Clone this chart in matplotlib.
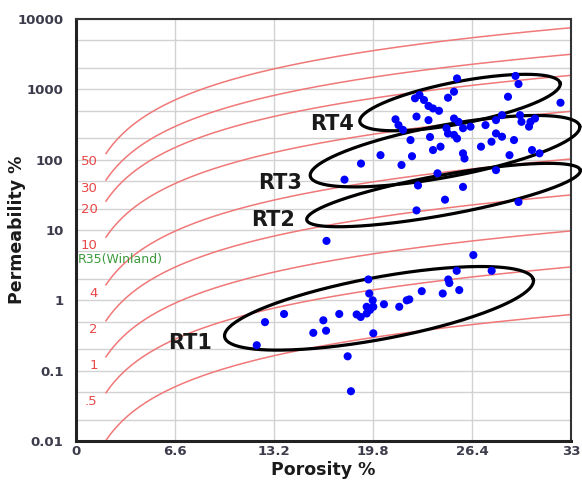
import numpy as np
import matplotlib
matplotlib.use("Agg")
import matplotlib.pyplot as plt
from matplotlib.ticker import LogLocator, NullFormatter

# core plugs above the RT1 band: porosity (%) and permeability (mD)
PHI_UPPER = [25.4, 29.3, 29.5, 32.3, 28.8, 25.2, 24.8, 22.6, 22.9, 23.2,
             23.5, 23.8, 24.2, 22.7, 23.5, 21.3, 21.5, 21.8, 25.2, 25.5,
             24.7, 24.8, 25.2, 25.4, 25.8, 26.3, 27.3, 28.0, 28.4, 29.6,
             29.7, 30.3, 30.6, 30.2, 22.3, 23.6, 23.8, 24.3, 25.8, 25.9,
             27.0, 27.7, 28.0, 28.4, 29.2, 30.4, 30.9, 28.9, 20.3, 22.4,
             21.7, 19.0, 17.9, 24.1, 28.0, 22.8, 25.8, 24.6, 22.7, 29.5,
             16.7]
K_UPPER = [1430, 1550, 1190, 645, 785, 925, 760, 745, 830, 705,
           580, 535, 495, 410, 365, 375, 310, 265, 385, 345,
           280, 235, 225, 200, 280, 295, 310, 365, 430, 430,
           345, 345, 385, 295, 190, 210, 137, 153, 123, 104,
           153, 180, 236, 212, 190, 137, 123, 116, 116, 112,
           84, 88, 52, 64, 71, 43, 41, 27, 19, 25,
           7.0]

# core plugs in the RT1 band
PHI_RT1 = [12.6, 12.05, 13.87, 16.49, 15.82, 16.67, 17.55, 18.11, 18.33,
           19.49, 19.55, 19.78, 19.38, 19.82, 19.6, 19.38, 18.98, 18.71,
           19.82, 20.53, 21.55, 22.05, 22.22, 23.05, 24.45, 24.82, 24.89,
           25.38, 25.55, 26.49, 27.71]
K_RT1 = [0.49, 0.23, 0.64, 0.52, 0.345, 0.37, 0.64, 0.16, 0.051,
         1.98, 1.25, 1.0, 0.81, 0.81, 0.73, 0.65, 0.58, 0.63,
         0.34, 0.88, 0.81, 1.0, 1.03, 1.35, 1.25, 1.98, 1.76,
         2.63, 1.40, 4.4, 2.63]

# Winland R35 pore-throat radius lines (microns)
R35_VALUES = [50, 30, 20, 10, 4, 2, 1, 0.5, 0.2]
R35_LABELS = ["50", "30", "20", "10", "4", "2", "1", ".5", ""]

# rock type envelopes: centre (phi, K), semi-axes in pixels, tilt in degrees
RT_NAMES = ["RT1", "RT2", "RT3", "RT4"]
RT_PHI = [20.2, 24.5, 24.6, 25.6]
RT_K = [0.77, 31.4, 132, 649]
RT_A = [157, 139, 137, 102]
RT_B = [31, 20, 26, 21]
RT_ANGLE = [10.5, 10.3, 10.5, 10.9]
RT_LABEL_PHI = [9.1, 14.6, 15.1, 18.5]
RT_LABEL_K = [0.25, 13.8, 47, 320]

X_TICKS = [0, 6.6, 13.2, 19.8, 26.4, 33]
X_TICK_LABELS = ["0", "6.6", "13.2", "19.8", "26.4", "33"]
Y_TICKS = [0.01, 0.1, 1, 10, 100, 1000, 10000]
Y_TICK_LABELS = ["0.01", "0.1", "1", "10", "100", "1000", "10000"]


def winland_k(phi, r35):
    # log R35 = 0.732 + 0.588 log K - 0.864 log phi
    return 10 ** ((np.log10(r35) - 0.732 + 0.864 * np.log10(phi)) / 0.588)


def draw_envelope(ax, phi, k, a, b, angle, w_px, h_px):
    t = np.linspace(0, 2 * np.pi, 300)
    th = np.radians(angle)
    dx = a * np.cos(t) * np.cos(th) - b * np.sin(t) * np.sin(th)
    dy = a * np.cos(t) * np.sin(th) + b * np.sin(t) * np.cos(th)
    fx = phi / 33.0 + dx / w_px
    fy = (np.log10(k) + 2) / 6.0 + dy / h_px
    ax.plot(fx, fy, color="black", lw=2.3, transform=ax.transAxes,
            clip_on=False, zorder=3)


fig = plt.figure(figsize=(5.82, 4.82), dpi=100)
ax = fig.add_axes([76 / 582, 41 / 482, 495 / 582, 422 / 482])
ax.set_xlim(0, 33)
ax.set_ylim(0.01, 10000)
ax.set_yscale("log")

# iso-R35 lines
phi_line = np.linspace(2, 33, 200)
for r35, lab in zip(R35_VALUES, R35_LABELS):
    ax.plot(phi_line, winland_k(phi_line, r35), color="#f07878", lw=1.1,
            zorder=2)
    if lab:
        ax.text(1.45, winland_k(2, r35) / 10 ** 0.12, lab, color="#e84848",
                fontsize=9.5, ha="right", va="center", zorder=4)
ax.text(0.13, 3.85, "R35(Winland)", color="#3c9a3c", fontsize=9,
        ha="left", va="center", zorder=4)

w_px = 495
h_px = 422
for name, p, k, a, b, ang, lp, lk in zip(RT_NAMES, RT_PHI, RT_K, RT_A, RT_B,
                                         RT_ANGLE, RT_LABEL_PHI, RT_LABEL_K):
    draw_envelope(ax, p, k, a, b, ang, w_px, h_px)
    ax.text(lp, lk, name, fontsize=15, fontweight="bold", color="#1a1a1a",
            ha="right", va="center", zorder=4)

ax.scatter(PHI_UPPER, K_UPPER, s=34, color="#0000ff", edgecolors="none",
           zorder=5)
ax.scatter(PHI_RT1, K_RT1, s=34, color="#0000ff", edgecolors="none",
           zorder=5)

ax.set_xticks(X_TICKS)
ax.set_xticklabels(X_TICK_LABELS)
ax.set_yticks(Y_TICKS)
ax.set_yticklabels(Y_TICK_LABELS)
ax.yaxis.set_minor_locator(LogLocator(base=10, subs=(2, 5)))
ax.yaxis.set_minor_formatter(NullFormatter())
ax.tick_params(which="both", length=0)
ax.tick_params(axis="y", pad=9)
ax.tick_params(axis="x", pad=3)
for lbl in ax.get_xticklabels() + ax.get_yticklabels():
    lbl.set_fontsize(9.5)
    lbl.set_fontweight("bold")
    lbl.set_color("#3c3c4c")

ax.grid(True, which="major", color="#d2d2d2", lw=1)
ax.grid(True, which="minor", axis="y", color="#d2d2d2", lw=1)
ax.set_axisbelow(True)

for side in ["top", "right"]:
    ax.spines[side].set_color("#333333")
    ax.spines[side].set_linewidth(1.5)
for side in ["left", "bottom"]:
    ax.spines[side].set_color("#222222")
    ax.spines[side].set_linewidth(2.2)

ax.set_xlabel("Porosity %", fontsize=12.5, fontweight="bold", color="#1a1a1a")
ax.set_ylabel("Permeability %", fontsize=12.5, fontweight="bold",
              color="#1a1a1a")
ax.xaxis.set_label_coords(0.5, -0.047)
ax.yaxis.set_label_coords(-0.1, 0.5)

fig.savefig("out.png", dpi=100)
